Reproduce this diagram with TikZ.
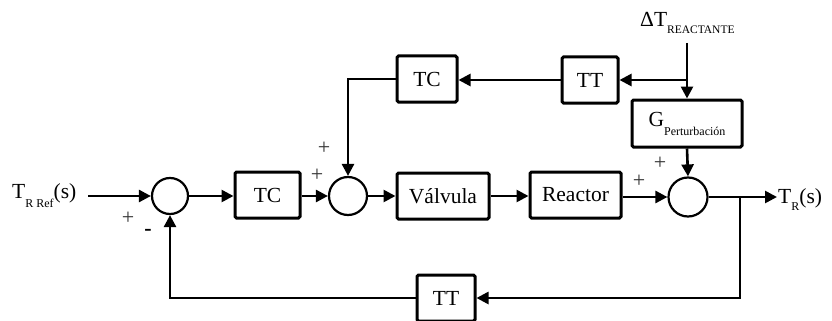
\documentclass[tikz,border=0pt]{standalone}
\usepackage{fontspec}
\setmainfont{Liberation Serif}
\usetikzlibrary{arrows.meta}
\begin{document}
\begin{tikzpicture}[x=1pt,y=-1pt,
  blk/.style={draw,line width=3pt,rounded corners=1.5pt,minimum height=46pt,inner sep=0pt,font=\fontsize{21.5}{21.5}\selectfont},
  sumc/.style={draw,circle,line width=2.2pt,inner sep=0pt},
  conn/.style={line width=2.6pt,-{Triangle[length=12pt,width=12pt]}},
  sgn/.style={font=\fontsize{22}{22}\selectfont,inner sep=0pt,text=black!80},
  lbl/.style={font=\fontsize{21.5}{21.5}\selectfont,inner sep=0pt,anchor=base west}]
\useasboundingbox (0,0) rectangle (832,321);
% blocks
\node[sumc,minimum size=36pt] (s1) at (170,196) {};
\node[blk,minimum width=65pt] (tc1) at (267.5,195) {TC};
\node[sumc,minimum size=38pt] (s2) at (348,196) {};
\node[blk,minimum width=92pt] (valv) at (443,196) {Válvula};
\node[blk,minimum width=91pt] (reac) at (575.5,195) {Reactor};
\node[sumc,minimum size=39pt] (s3) at (688,197) {};
\node[blk,minimum width=60pt] (tc2) at (427,79) {TC};
\node[blk,minimum width=56pt] (tt1) at (590,80) {TT};
\node[blk,minimum width=110pt,minimum height=47pt] (gp) at (687,123.5) {G\raisebox{-9pt}{\fontsize{12}{12}\selectfont Perturbación}};
\node[blk,minimum width=58pt] (tt2) at (446,298) {TT};
% labels
\node[lbl] (tin) at (12,198) {T\raisebox{-9pt}{\fontsize{12}{12}\selectfont R Ref}(s)};
\node[lbl] (tout) at (778,203) {T\raisebox{-7pt}{\fontsize{12}{12}\selectfont R}(s)};
\node[lbl] (dt) at (640,27) {ΔT\raisebox{-7pt}{\fontsize{11.5}{12}\selectfont REACTANTE}};
% signs
\node[sgn] (p1) at (128,218) {+};
\node[sgn,font=\fontsize{22}{22}\bfseries,text=black] (m1) at (148,232) {-};
\node[sgn] (p2) at (324,148) {+};
\node[sgn] (p3) at (317,175) {+};
\node[sgn] (p4) at (660,163) {+};
\node[sgn] (p5) at (639,181) {+};
% coordinates
\coordinate (in) at (88,196);
\coordinate (br) at (740,197);
\coordinate (out) at (777,197);
\coordinate (dtop) at (687,43);
\coordinate (dj) at (687,80);
% connectors
\draw[conn] (in) -- (s1.west);
\draw[conn] (s1.east) -- (tc1.west |- s1.east);
\draw[conn] (tc1.east |- s2.west) -- (s2.west);
\draw[conn] (s2.east) -- (valv.west);
\draw[conn] (valv.east) -- (reac.west |- valv.east);
\draw[conn] (reac.east |- s3.west) -- (s3.west);
\draw[conn] (s3.east) -- (out);
\draw[conn] (br) |- (tt2.east);
\draw[conn] (tt2.west) -| (s1.south);
\draw[conn] (dtop) -- (gp.north);
\draw[conn] (dj) -- (tt1.east);
\draw[conn] (tt1.west) -- (tc2.east |- tt1.west);
\draw[conn] (tc2.west) -| (s2.north);
\draw[conn] (gp.south) -- (s3.north);
\end{tikzpicture}
\end{document}
